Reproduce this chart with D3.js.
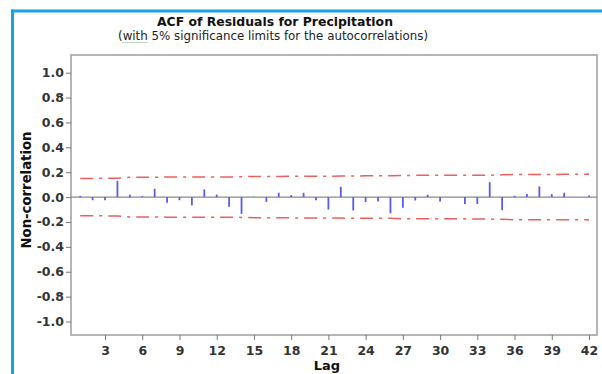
<!DOCTYPE html>
<html>
<head>
<meta charset="utf-8">
<script src="https://cdn.jsdelivr.net/npm/d3@7"></script>
<style>
  html, body { margin: 0; padding: 0; background: #ffffff; }
  svg { display: block; }
</style>
</head>
<body>
<svg id="chart" width="602" height="374"></svg>
<script>
// ---- data ----
const title = "ACF of Residuals for Precipitation";
const subtitleWith = "with";
const subtitleRest = " 5% significance limits for the autocorrelations";
const yLabel = "Non-correlation";
const xLabel = "Lag";

const lags = [1,2,3,4,5,6,7,8,9,10,11,12,13,14,15,16,17,18,19,20,21,
              22,23,24,25,26,27,28,29,30,31,32,33,34,35,36,37,38,39,40,41,42];
const acf = [0.010,-0.025,-0.025,0.130,0.020,0.008,0.067,-0.045,-0.025,-0.067,
             0.062,0.020,-0.078,-0.135,0.003,-0.038,0.035,0.016,0.035,-0.025,
             -0.100,0.083,-0.108,-0.040,-0.035,-0.130,-0.086,-0.027,0.019,-0.035,
             0.000,-0.056,-0.056,0.120,-0.105,0.010,0.024,0.086,0.024,0.035,
             0.000,0.013];
const upperLimit = [0.150,0.150,0.151,0.151,0.160,0.160,0.160,0.161,0.161,0.161,
                    0.162,0.162,0.162,0.163,0.166,0.166,0.166,0.167,0.167,0.167,
                    0.167,0.169,0.170,0.171,0.171,0.171,0.174,0.175,0.175,0.175,
                    0.175,0.175,0.176,0.176,0.179,0.182,0.182,0.182,0.182,0.183,
                    0.183,0.183];
const lowerLimit = upperLimit.map(v => -v);
const xTicks = [3,6,9,12,15,18,21,24,27,30,33,36,39,42];
const yTicks = [1.0,0.8,0.6,0.4,0.2,0.0,-0.2,-0.4,-0.6,-0.8,-1.0];

// ---- layout ----
const svg = d3.select("#chart");
const frame = {left: 71, top: 55, right: 597, bottom: 335};
const x = d3.scaleLinear().domain([1, 42]).range([80.2, 589]);
const y = d3.scaleLinear().domain([-1, 1]).range([321.5, 72.7]);

const tickFont = "'DejaVu Sans', Verdana, sans-serif";
const textColor = "#333333";

// blue outer border (left and top edges visible)
svg.append("line").attr("x1", 12.5).attr("x2", 12.5).attr("y1", 9.5).attr("y2", 380)
  .attr("stroke", "#19a3e6").attr("stroke-width", 3);
svg.append("line").attr("x1", 11).attr("x2", 610).attr("y1", 11).attr("y2", 11)
  .attr("stroke", "#19a3e6").attr("stroke-width", 3);

// helper: fit text to a width
function fit(sel, w) {
  const len = sel.node().getComputedTextLength();
  const fs = parseFloat(sel.attr("font-size"));
  sel.attr("font-size", (fs * w / len).toFixed(2));
}

// titles
const t = svg.append("text").attr("x", 275).attr("y", 26).attr("text-anchor", "middle")
  .attr("font-family", "'DejaVu Sans', Verdana, sans-serif").attr("font-weight", "bold")
  .attr("font-size", 14).attr("fill", "#111").text(title);
fit(t, 236);

const st = svg.append("text").attr("x", 273).attr("y", 40).attr("text-anchor", "middle")
  .attr("font-family", "'DejaVu Sans', Verdana, sans-serif")
  .attr("font-size", 12).attr("fill", "#222");
st.append("tspan").text("(");
const withSpan = st.append("tspan").text(subtitleWith);
st.append("tspan").text(subtitleRest + ")");
fit(st, 310);
// green dotted spell-check underline under "with"
{
  const bb = withSpan.node().getBBox();
  svg.append("line").attr("x1", bb.x).attr("x2", bb.x + bb.width)
    .attr("y1", 42.5).attr("y2", 42.5)
    .attr("stroke", "#7fbf7f").attr("stroke-width", 1).attr("stroke-dasharray", "1,1");
}

// plot frame
svg.append("rect").attr("x", frame.left).attr("y", frame.top)
  .attr("width", frame.right - frame.left).attr("height", frame.bottom - frame.top)
  .attr("fill", "none").attr("stroke", "#a3a3a3").attr("stroke-width", 1.6);

// y axis
const yAxis = d3.axisLeft(y).tickValues(yTicks).tickSize(5).tickPadding(2)
  .tickFormat(d => d3.format(".1f")(d).replace("\u2212", "-"));
const gy = svg.append("g").attr("transform", `translate(${frame.left},0)`).call(yAxis);
gy.select(".domain").remove();
gy.selectAll(".tick line").attr("stroke", "#777").attr("stroke-width", 1);
gy.selectAll(".tick text").attr("font-family", tickFont).attr("font-size", 12.5)
  .attr("fill", textColor).attr("font-weight", 600);

// x axis
const xAxis = d3.axisBottom(x).tickValues(xTicks).tickSize(5).tickPadding(6);
const gx = svg.append("g").attr("transform", `translate(0,${frame.bottom})`).call(xAxis);
gx.select(".domain").remove();
gx.selectAll(".tick line").attr("stroke", "#777").attr("stroke-width", 1);
gx.selectAll(".tick text").attr("font-family", tickFont).attr("font-size", 12.5)
  .attr("fill", textColor).attr("font-weight", 600);

// axis titles
svg.append("text").attr("transform", "translate(31,190) rotate(-90)")
  .attr("text-anchor", "middle").attr("font-family", "'DejaVu Sans', Verdana, sans-serif")
  .attr("font-weight", "bold").attr("font-size", 13).attr("fill", "#111").text(yLabel)
  .call(s => fit(s, 117));
svg.append("text").attr("x", 327).attr("y", 370).attr("text-anchor", "middle")
  .attr("font-family", "'DejaVu Sans', Verdana, sans-serif")
  .attr("font-weight", "bold").attr("font-size", 13).attr("fill", "#111").text(xLabel);

// zero line
svg.append("line").attr("x1", frame.left).attr("x2", frame.right)
  .attr("y1", y(0)).attr("y2", y(0)).attr("stroke", "#8a8a8a").attr("stroke-width", 1.2);

// significance limits
const limLine = d3.line().x((d, i) => x(lags[i])).y(d => y(d));
[upperLimit, lowerLimit].forEach(arr => {
  svg.append("path").attr("d", limLine(arr)).attr("fill", "none")
    .attr("stroke", "#ec5f5f").attr("stroke-width", 1.5)
    .attr("stroke-dasharray", "13,6,3,6");
});

// ACF bars
svg.append("g").selectAll("line").data(acf).join("line")
  .attr("x1", (d, i) => x(lags[i])).attr("x2", (d, i) => x(lags[i]))
  .attr("y1", y(0)).attr("y2", d => y(d))
  .attr("stroke", "#5b5bf2").attr("stroke-width", 1.8);
</script>
</body>
</html>
